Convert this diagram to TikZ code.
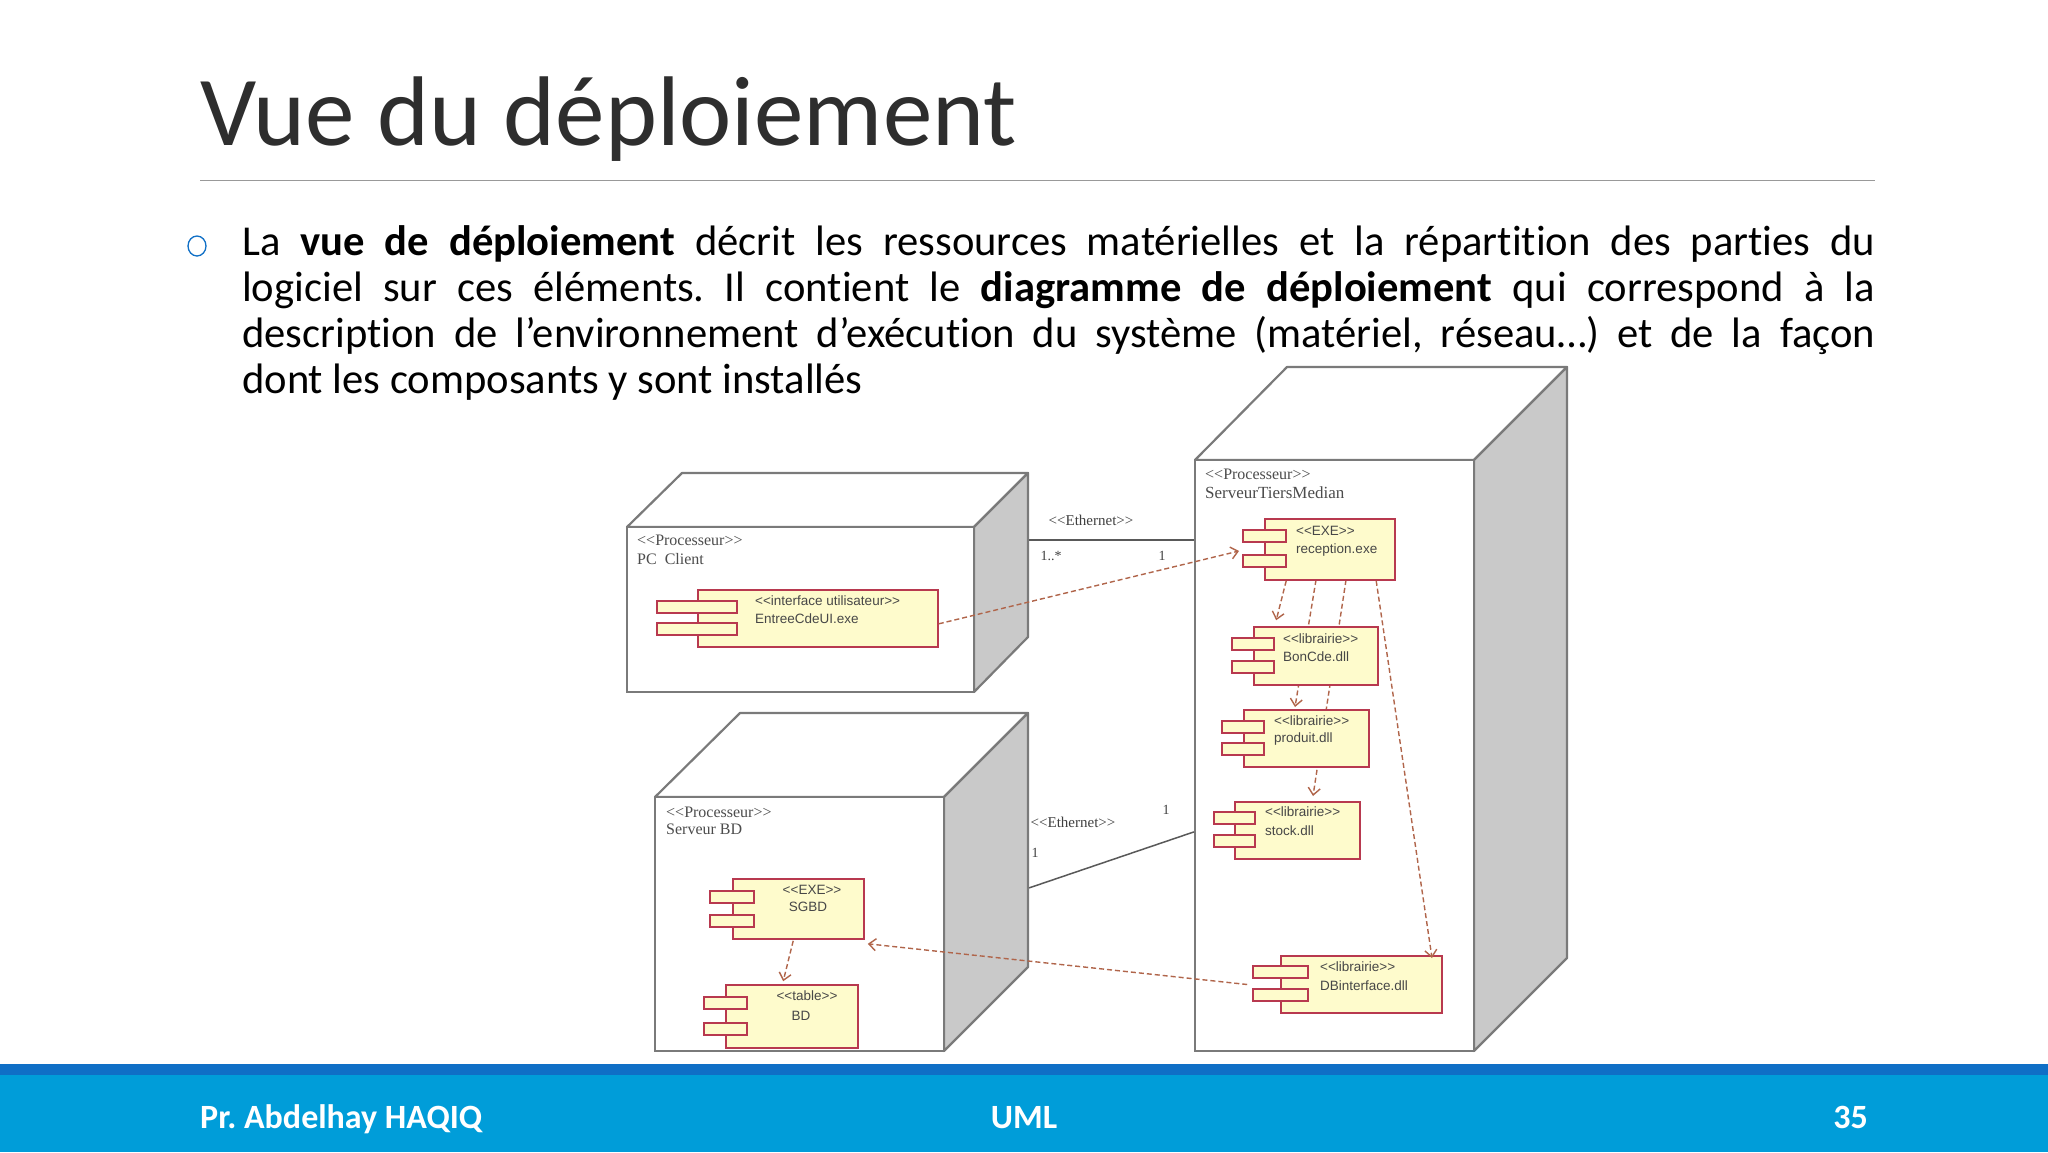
\documentclass[tikz,border=0pt]{standalone}
\usepackage{fontspec}
\setmainfont[Ligatures=NoCommon]{Carlito}
\newfontfamily\compfont{Liberation Sans}
\newfontfamily\procfont{Liberation Serif}
\usetikzlibrary{arrows.meta,calc,shapes.geometric}
\definecolor{barA}{HTML}{0F6FC6}
\definecolor{barB}{HTML}{009DD9}
\definecolor{edgeG}{HTML}{7A7A7A}
\definecolor{sideG}{HTML}{C9C9C9}
\definecolor{compE}{HTML}{B8394F}
\definecolor{compF}{HTML}{FEFBCC}
\definecolor{depC}{HTML}{B0654A}
\tikzset{
  titletext/.style={anchor=base west,inner sep=0pt,text=black!82,font=\fontsize{99}{110}\selectfont},
  bodytext/.style={anchor=north west,inner sep=0pt,text width=1633pt,align=justify,text=black,font=\frenchspacing\fontsize{42.6}{46}\selectfont},
  foottext/.style={inner sep=0pt,text=white,font=\frenchspacing\bfseries\fontsize{34}{38}\selectfont},
  frontbox/.style={draw=edgeG,line width=2.2pt,fill=white,inner sep=0pt},
  topface/.style={draw=edgeG,line width=2.2pt,fill=white,line join=round},
  sideface/.style={draw=edgeG,line width=2.2pt,fill=sideG,line join=round},
  compbody/.style={draw=compE,line width=1.6pt,fill=compF,inner sep=0pt},
  comptab/.style={draw=compE,line width=1.6pt,fill=compF,inner sep=0pt,minimum height=12pt},
  comptext/.style={inner sep=0pt,text=black!72,font=\compfont\fontsize{13.5}{16}\selectfont},
  proctext/.style={anchor=west,inner sep=0pt,text=black!70,font=\procfont\fontsize{16}{18}\selectfont},
  multtext/.style={inner sep=0pt,text=black!75,font=\procfont\fontsize{14}{16}\selectfont},
  nettext/.style={inner sep=0pt,text=black!75,font=\procfont\fontsize{15}{16}\selectfont},
  netline/.style={draw=black!65,line width=1.5pt},
  depline/.style={draw=depC,line width=1.4pt,dash pattern=on 5pt off 3pt,-{Straight Barb[length=7pt,width=12pt]}}
}
% name, x1, y1, x2, y2, tab half width, tab1 offset, tab2 offset
\newcommand\compbox[8]{%
  \pgfmathsetmacro\cw{#4-#2}\pgfmathsetmacro\ch{#5-#3}%
  \node[compbody,minimum width=\cw pt,minimum height=\ch pt] (#1) at ({(#2+#4)/2},{(#3+#5)/2}) {};
  \pgfmathsetmacro\tw{2*#6}%
  \node[comptab,minimum width=\tw pt] (#1-a) at ([shift={(0,#7)}]#1.north west) {};
  \node[comptab,minimum width=\tw pt] (#1-b) at ([shift={(0,#8)}]#1.north west) {};
}
% name, fx1, fy1, fx2, fy2, back-left x, back-right x, back-top y, back-bottom y
\newcommand\procbox[9]{%
  \pgfmathsetmacro\cw{#4-#2}\pgfmathsetmacro\ch{#5-#3}%
  \draw[topface] (#2,#3) -- (#6,#8) -- (#7,#8) -- (#4,#3) -- cycle;
  \draw[sideface] (#4,#3) -- (#7,#8) -- (#7,#9) -- (#4,#5) -- cycle;
  \node[frontbox,minimum width=\cw pt,minimum height=\ch pt] (#1) at ({(#2+#4)/2},{(#3+#5)/2}) {};
}
\begin{document}
\begin{tikzpicture}[x=1pt,y=-1pt]
\useasboundingbox (0,0) rectangle (2048,1152);
\fill[white] (0,0) rectangle (2048,1152);
% title
\node[titletext] (title) at (200,145) {Vue du déploiement};
\coordinate (ruleL) at (200,180);
\coordinate (ruleR) at (1875,180);
\draw[black!40,line width=1pt] (ruleL) -- (ruleR);
% body text
\node[ellipse,draw=barA,line width=1.3pt,inner sep=0pt,minimum width=18pt,minimum height=20pt] (bullet) at (197,246) {};
\node[bodytext] (para) at (242,225.5) {La \textbf{vue de déploiement} décrit les ressources matérielles et la répartition des parties du\linebreak
logiciel sur ces éléments. Il contient le \textbf{diagramme de déploiement} qui correspond à la\linebreak
description de l’environnement d’exécution du système (matériel, réseau…) et de la façon\linebreak
dont les composants y sont installés};
% processors
\procbox{pc}{627}{527}{974}{692}{682}{1028}{473}{637}
\procbox{srv}{1195}{460}{1474}{1051}{1287}{1567}{367}{958}
\procbox{bd}{655}{797}{944}{1051}{740}{1028}{713}{967}
\node[proctext] (pcS) at (637,540) {<{}<Processeur>{}>};
\node[proctext] (pcN) at (637,559) {PC\ \ Client};
\node[proctext] (srvS) at (1205,474) {<{}<Processeur>{}>};
\node[proctext,font=\procfont\fontsize{17}{18}\selectfont] (srvN) at (1205,493) {ServeurTiersMedian};
\node[proctext] (bdS) at (666,812) {<{}<Processeur>{}>};
\node[proctext] (bdN) at (666,829) {Serveur BD};
% network links
\draw[netline] ([shift={(54,14)}]pc.north east) -- ([shift={(0,81)}]srv.north west);
\draw[netline] ([shift={(84,92)}]bd.north east) -- ([shift={(0,373)}]srv.north west);
\node[nettext] (e1) at (1091,520) {<{}<Ethernet>{}>};
\node[nettext] (e2) at (1073,822) {<{}<Ethernet>{}>};
\node[multtext] (m1) at (1051,556) {1..*};
\node[multtext] (m2) at (1162,556) {1};
\node[multtext] (m3) at (1166,810) {1};
\node[multtext] (m4) at (1035,853) {1};
% dependency lines that run behind the components they cross
\coordinate (rA) at (1316,580);
\coordinate (rB) at (1346,580);
\coordinate (pTop) at (1295,707);
\coordinate (sTop) at (1313,796);
\coordinate (dTop) at (1432,958);
\coordinate (eEnd) at (1239,551);
\draw[depline] (rA) -- (pTop);
\draw[depline] (rB) -- (sTop);
% components
\compbox{entree}{698}{590}{938}{647}{40}{17.5}{40}
\compbox{recep}{1265}{519}{1395}{580}{21.5}{18}{42.5}
\compbox{bon}{1254}{627}{1378}{685}{21}{18}{40.5}
\compbox{prod}{1244}{710}{1369}{767}{21}{17.5}{40}
\compbox{stock}{1235}{802}{1360}{859}{20.5}{16.5}{39.5}
\compbox{dbi}{1281}{956}{1442}{1013}{27.5}{17}{40}
\compbox{sgbd}{733}{879}{864}{939}{22}{18.5}{42.5}
\compbox{table}{726}{985}{858}{1048}{21.5}{19}{44.5}
% component texts
\node[comptext,anchor=west] (t1) at (755,601) {<{}<interface utilisateur>{}>};
\node[comptext,anchor=west] (t2) at (755,619) {EntreeCdeUI.exe};
\node[comptext,anchor=west] (t3) at (1296,531) {<{}<EXE>{}>};
\node[comptext,anchor=west] (t4) at (1296,550) {reception.exe};
\node[comptext,anchor=west] (t5) at (1283,639) {<{}<librairie>{}>};
\node[comptext,anchor=west] (t6) at (1283,657) {BonCde.dll};
\node[comptext,anchor=west] (t7) at (1274,721) {<{}<librairie>{}>};
\node[comptext,anchor=west] (t8) at (1274,739) {produit.dll};
\node[comptext,anchor=west] (t9) at (1265,812) {<{}<librairie>{}>};
\node[comptext,anchor=west] (t10) at (1265,831) {stock.dll};
\node[comptext,anchor=west] (t11) at (1320,967) {<{}<librairie>{}>};
\node[comptext,anchor=west] (t12) at (1320,986) {DBinterface.dll};
\node[comptext] (t13) at (812,890) {<{}<EXE>{}>};
\node[comptext] (t14) at (808,907) {SGBD};
\node[comptext] (t15) at (807,996) {<{}<table>{}>};
\node[comptext] (t16) at (801,1016) {BD};
% dependencies
\draw[depline] ([shift={(0,-24)}]entree.south east) -- (eEnd);
\draw[depline] ([shift={(22,0)}]recep.south west) -- ([shift={(23,-6)}]bon.north west);
\draw[depline] ([shift={(112,0)}]recep.south west) -- (dTop);
\draw[depline] ([shift={(-33,0)}]dbi.west) -- ([shift={(3,4)}]sgbd.south east);
\draw[depline] ([shift={(61,1)}]sgbd.south west) -- ([shift={(58,-3)}]table.north west);
% footer
\fill[barB] (0,1064) rectangle (2048,1152);
\fill[barA] (0,1064) rectangle (2048,1075);
\node[foottext,anchor=base west] (f1) at (200,1128) {Pr. Abdelhay HAQIQ};
\node[foottext,anchor=base] (f2) at (1024,1128) {UML};
\node[foottext,anchor=base east] (f3) at (1868,1128) {35};
\end{tikzpicture}
\end{document}
